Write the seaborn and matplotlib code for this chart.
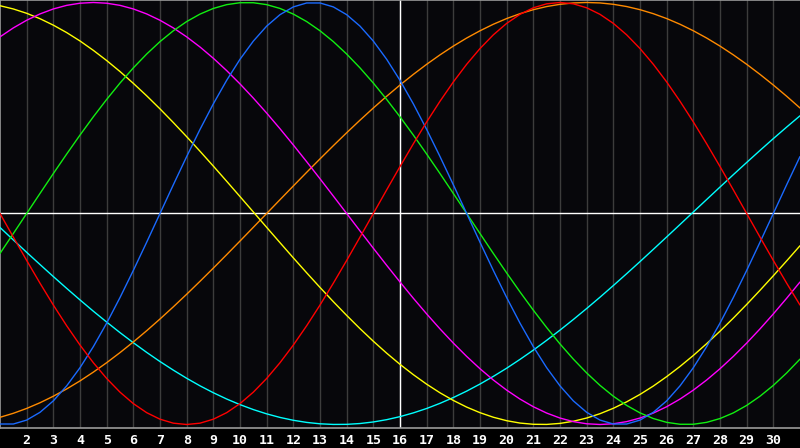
import numpy as np
import pandas as pd
import matplotlib
matplotlib.use("Agg")
import matplotlib.pyplot as plt
import seaborn as sns

# sample days: 1, 1.5, 2, ..., 31 (values every half day)
days = [1 + 0.5 * i for i in range(61)]

red = [0.0, -0.1120, -0.2225, -0.3303, -0.4339, -0.5320, -0.6235, -0.7071, -0.7818, -0.8467,
       -0.9010, -0.9439, -0.9749, -0.9937, -1.0, -0.9937, -0.9749, -0.9439, -0.9010, -0.8467,
       -0.7818, -0.7071, -0.6235, -0.5320, -0.4339, -0.3303, -0.2225, -0.1120, 0.0, 0.1120,
       0.2225, 0.3303, 0.4339, 0.5320, 0.6235, 0.7071, 0.7818, 0.8467, 0.9010, 0.9439,
       0.9749, 0.9937, 1.0, 0.9937, 0.9749, 0.9439, 0.9010, 0.8467, 0.7818, 0.7071,
       0.6235, 0.5320, 0.4339, 0.3303, 0.2225, 0.1120, 0.0, -0.1120, -0.2225, -0.3303, -0.4339]
blue = [-0.9977, -0.9977, -0.9791, -0.9423, -0.8880, -0.8170, -0.7308, -0.6311, -0.5196, -0.3984,
        -0.2698, -0.1362, 0.0, 0.1362, 0.2698, 0.3984, 0.5196, 0.6311, 0.7308, 0.8170,
        0.8880, 0.9423, 0.9791, 0.9977, 0.9977, 0.9791, 0.9423, 0.8880, 0.8170, 0.7308,
        0.6311, 0.5196, 0.3984, 0.2698, 0.1362, 0.0, -0.1362, -0.2698, -0.3984, -0.5196,
        -0.6311, -0.7308, -0.8170, -0.8880, -0.9423, -0.9791, -0.9977, -0.9977, -0.9791, -0.9423,
        -0.8880, -0.8170, -0.7308, -0.6311, -0.5196, -0.3984, -0.2698, -0.1362, 0.0, 0.1362, 0.2698]
green = [-0.1893, -0.0950, 0.0, 0.0950, 0.1893, 0.2817, 0.3717, 0.4582, 0.5406, 0.6182,
         0.6901, 0.7557, 0.8146, 0.8660, 0.9096, 0.9450, 0.9718, 0.9898, 0.9989, 0.9989,
         0.9898, 0.9718, 0.9450, 0.9096, 0.8660, 0.8146, 0.7557, 0.6901, 0.6182, 0.5406,
         0.4582, 0.3717, 0.2817, 0.1893, 0.0950, 0.0, -0.0950, -0.1893, -0.2817, -0.3717,
         -0.4582, -0.5406, -0.6182, -0.6901, -0.7557, -0.8146, -0.8660, -0.9096, -0.9450, -0.9718,
         -0.9898, -0.9989, -0.9989, -0.9898, -0.9718, -0.9450, -0.9096, -0.8660, -0.8146, -0.7557, -0.6901]
magenta = [0.8371, 0.8795, 0.9158, 0.9458, 0.9694, 0.9864, 0.9966, 1.0, 0.9966, 0.9864,
           0.9694, 0.9458, 0.9158, 0.8795, 0.8371, 0.7891, 0.7357, 0.6773, 0.6142, 0.5469,
           0.4759, 0.4017, 0.3247, 0.2455, 0.1646, 0.0826, 0.0, -0.0826, -0.1646, -0.2455,
           -0.3247, -0.4017, -0.4759, -0.5469, -0.6142, -0.6773, -0.7357, -0.7891, -0.8371, -0.8795,
           -0.9158, -0.9458, -0.9694, -0.9864, -0.9966, -1.0, -0.9966, -0.9864, -0.9694, -0.9458,
           -0.9158, -0.8795, -0.8371, -0.7891, -0.7357, -0.6773, -0.6142, -0.5469, -0.4759, -0.4017, -0.3247]
yellow = [0.9847, 0.9693, 0.9488, 0.9232, 0.8926, 0.8574, 0.8177, 0.7732, 0.7249, 0.6728,
          0.6168, 0.5578, 0.4958, 0.4310, 0.3640, 0.2950, 0.2246, 0.1528, 0.0802, 0.0073,
          -0.0657, -0.1383, -0.2103, -0.2811, -0.3504, -0.4179, -0.4830, -0.5457, -0.6054, -0.6619,
          -0.7149, -0.7638, -0.8090, -0.8498, -0.8860, -0.9175, -0.9440, -0.9656, -0.9820, -0.9932,
          -0.9990, -0.9996, -0.9948, -0.9847, -0.9693, -0.9488, -0.9232, -0.8926, -0.8574, -0.8177,
          -0.7732, -0.7249, -0.6728, -0.6168, -0.5578, -0.4958, -0.4311, -0.3640, -0.2950, -0.2246, -0.1528]
cyan = [-0.0663, -0.1253, -0.1840, -0.2418, -0.2989, -0.3548, -0.4096, -0.4630, -0.5145, -0.5646,
        -0.6124, -0.6582, -0.7016, -0.7424, -0.7810, -0.8167, -0.8494, -0.8792, -0.9058, -0.9293,
        -0.9496, -0.9665, -0.9800, -0.9901, -0.9967, -0.9997, -0.9993, -0.9954, -0.9880, -0.9771,
        -0.9627, -0.9450, -0.9241, -0.8997, -0.8722, -0.8418, -0.8083, -0.7720, -0.7332, -0.6914,
        -0.6475, -0.6011, -0.5527, -0.5024, -0.4503, -0.3967, -0.3415, -0.2852, -0.2280, -0.1699,
        -0.1112, -0.0522, 0.0071, 0.0663, 0.1253, 0.1840, 0.2418, 0.2989, 0.3549, 0.4096, 0.4630]
orange = [-0.9659, -0.9469, -0.9239, -0.8969, -0.8660, -0.8315, -0.7934, -0.7518, -0.7071, -0.6593,
          -0.6088, -0.5556, -0.5, -0.4423, -0.3827, -0.3214, -0.2588, -0.1951, -0.1305, -0.0654,
          0.0, 0.0654, 0.1305, 0.1951, 0.2588, 0.3214, 0.3827, 0.4423, 0.5, 0.5556,
          0.6088, 0.6593, 0.7071, 0.7518, 0.7934, 0.8315, 0.8660, 0.8969, 0.9239, 0.9469,
          0.9659, 0.9808, 0.9914, 0.9979, 1.0, 0.9979, 0.9914, 0.9808, 0.9659, 0.9469,
          0.9239, 0.8969, 0.8660, 0.8315, 0.7934, 0.7518, 0.7071, 0.6593, 0.6088, 0.5556, 0.5]

tick_days = list(range(2, 31))
tick_labels = [str(d) for d in tick_days]

series = {"cyan": cyan, "orange": orange, "yellow": yellow, "magenta": magenta,
          "green": green, "blue": blue, "red": red}
palette = {"cyan": "#00ffff", "orange": "#ff8a00", "yellow": "#ffff00", "magenta": "#ff00ff",
           "green": "#11ee11", "blue": "#1a6aff", "red": "#ff0000"}

df = pd.concat([pd.DataFrame({"day": days, "value": v, "series": k}) for k, v in series.items()],
               ignore_index=True)

sns.set_style("dark")
bg = "#07070b"
fig = plt.figure(figsize=(8.0, 4.48), dpi=100, facecolor="#000000")
ax = fig.add_axes([0.0, 20 / 448, 1.0, 428 / 448])
ax.set_facecolor(bg)

for d in tick_days:
    ax.axvline(d, color="#3c3c3c", lw=1.0, zorder=1)
ax.axvline(16, color="#ffffff", lw=1.0, zorder=2)
ax.axhline(0, color="#ffffff", lw=1.0, zorder=2)

sns.lineplot(data=df, x="day", y="value", hue="series", palette=palette, legend=False,
             linewidth=1.0, ax=ax, zorder=3, estimator=None, sort=False)

ax.set_xlim(1, 31)
ax.set_ylim(-1.0166, 1.0118)
ax.set_xticks(tick_days)
ax.set_xticklabels(tick_labels, color="white", fontsize=9.5, fontweight="bold",
                   family=["DejaVu Sans Mono", "DejaVu Sans"])
ax.set_yticks([])
ax.tick_params(axis="x", length=0, pad=4)
ax.grid(False)
ax.set_xlabel("")
ax.set_ylabel("")
for side in ["left", "top", "bottom"]:
    ax.spines[side].set_visible(True)
    ax.spines[side].set_color("#9a9a9a")
    ax.spines[side].set_linewidth(1.2)
ax.spines["right"].set_visible(False)

fig.savefig("out.png", dpi=100, facecolor="#000000")
